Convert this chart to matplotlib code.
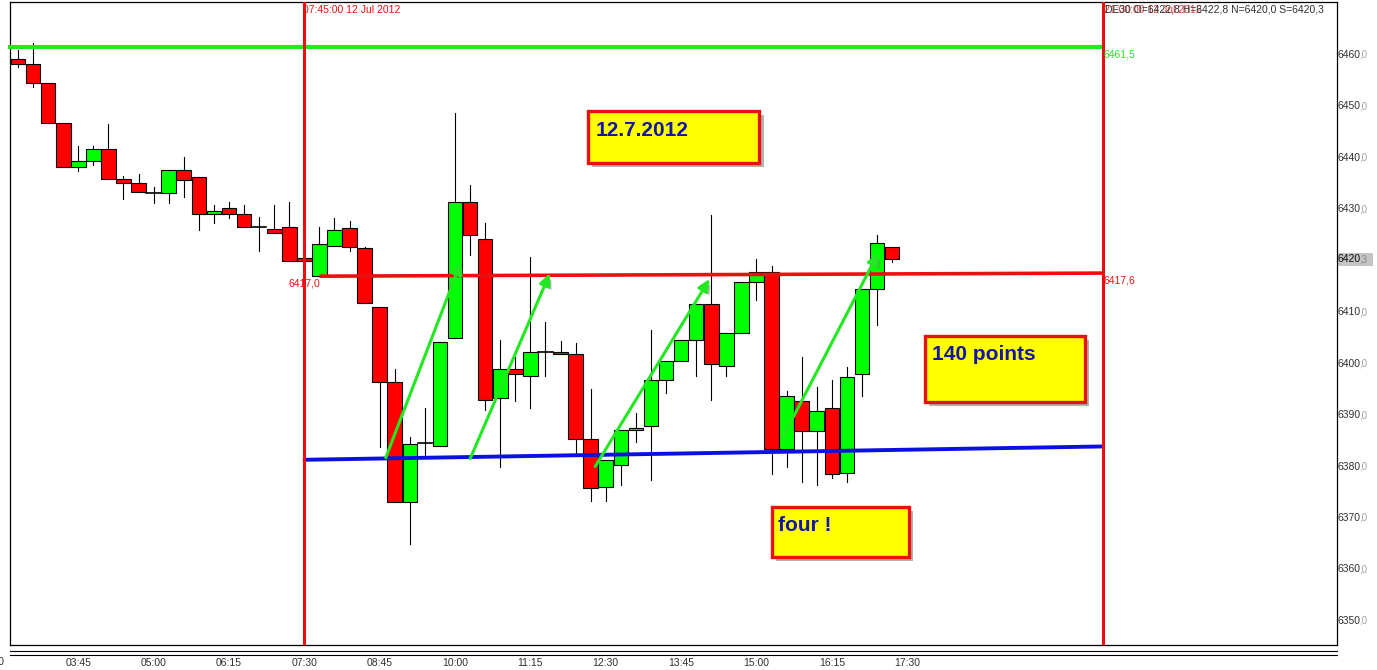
import numpy as np
import matplotlib
matplotlib.use('Agg')
import matplotlib.pyplot as plt
import matplotlib.patheffects as pe
import matplotlib.transforms as mtransforms
from matplotlib.lines import Line2D
from matplotlib.patches import Rectangle

plt.rcParams['font.family'] = ['Liberation Sans', 'DejaVu Sans']

# 15 minute DE30 bars, index 1 = 02:45 ... 59 = 17:15
bar_idx = np.arange(1, 60)
opens = [6459.3, 6458.2, 6454.5, 6446.7, 6438.2, 6439.3, 6441.7, 6435.8, 6435.1, 6433.2,
         6433.1, 6437.6, 6436.2, 6429.0, 6430.2, 6429.0, 6426.6, 6426.1, 6426.5, 6420.5,
         6417.0, 6422.9, 6426.3, 6422.4, 6411.0, 6396.4, 6373.1, 6384.6, 6384.0, 6404.9,
         6431.4, 6424.2, 6393.3, 6398.9, 6397.5, 6402.3, 6402.2, 6401.8, 6385.4, 6376.0,
         6380.3, 6387.1, 6387.8, 6396.8, 6400.5, 6404.6, 6411.6, 6399.6, 6405.9, 6415.8,
         6417.9, 6383.4, 6392.8, 6386.9, 6391.3, 6378.7, 6398.0, 6414.5, 6422.7]
highs = [6461.0, 6462.3, 6454.5, 6446.7, 6442.3, 6442.4, 6446.6, 6436.5, 6436.9, 6434.3,
         6437.6, 6440.2, 6436.2, 6430.8, 6431.5, 6430.8, 6428.5, 6430.8, 6431.4, 6420.5,
         6426.5, 6428.3, 6427.8, 6422.7, 6411.0, 6399.0, 6385.7, 6391.3, 6404.3, 6448.7,
         6434.7, 6427.3, 6404.5, 6401.2, 6420.8, 6408.0, 6404.4, 6404.0, 6395.0, 6381.3,
         6387.1, 6390.4, 6406.6, 6400.5, 6404.6, 6411.6, 6428.9, 6405.9, 6415.8, 6420.3,
         6418.9, 6394.6, 6401.2, 6395.5, 6396.8, 6399.3, 6414.5, 6425.0, 6422.7]
lows = [6457.7, 6453.8, 6446.7, 6438.2, 6437.5, 6438.7, 6435.8, 6432.0, 6433.3, 6431.2,
        6431.2, 6432.3, 6426.0, 6427.3, 6428.3, 6426.6, 6421.8, 6425.3, 6419.9, 6419.9,
        6417.0, 6422.9, 6421.8, 6411.7, 6383.7, 6373.1, 6364.9, 6382.3, 6384.0, 6404.9,
        6421.1, 6390.9, 6380.0, 6392.8, 6391.3, 6397.5, 6401.8, 6382.6, 6373.2, 6373.2,
        6376.4, 6384.8, 6377.3, 6394.2, 6400.5, 6397.5, 6392.9, 6397.5, 6405.9, 6412.4,
        6378.5, 6380.0, 6376.9, 6376.4, 6377.7, 6376.9, 6393.7, 6407.5, 6419.8]
closes = [6458.2, 6454.5, 6446.7, 6438.2, 6439.3, 6441.7, 6435.8, 6435.1, 6433.3, 6433.2,
          6437.6, 6435.6, 6429.0, 6429.6, 6429.0, 6426.6, 6426.6, 6425.3, 6419.9, 6419.9,
          6423.2, 6425.9, 6422.7, 6411.7, 6396.4, 6373.1, 6384.3, 6384.6, 6404.3, 6431.4,
          6425.0, 6392.9, 6398.9, 6398.0, 6402.3, 6402.3, 6401.8, 6385.4, 6375.8, 6381.3,
          6387.1, 6387.4, 6396.8, 6400.5, 6404.6, 6411.6, 6399.9, 6405.9, 6415.8, 6417.9,
          6383.4, 6393.8, 6386.9, 6390.7, 6378.5, 6397.4, 6414.5, 6423.4, 6420.3]

tick_pos = [5, 10, 15, 20, 25, 30, 35, 40, 45, 50, 55, 60]
tick_labels = ['03:45', '05:00', '06:15', '07:30', '08:45', '10:00',
               '11:15', '12:30', '13:45', '15:00', '16:15', '17:30']
first_tick = (0, '02:30')
price_ticks = [6350, 6360, 6370, 6380, 6390, 6400, 6410, 6430, 6440, 6450, 6460]
last_price = 6420.3

# drawn objects
vlines_x = [20, 73]
green_level = 6461.5
red_x = [21, 73]
red_y = [6417.0, 6417.6]
blue_x = [19.9, 73]
blue_y = [6381.3, 6383.9]
arrow_x0 = [25.4, 31.0, 39.3, 51.7]
arrow_y0 = [6381.7, 6381.5, 6380.0, 6385.4]
arrow_x1 = [30.4, 36.3, 46.9, 58.1]
arrow_y1 = [6419.8, 6417.6, 6416.5, 6421.6]
notes = ['12.7.2012', '140 points', 'four !']
note_boxes = [(38.8, 6438.95, 11.4, 10.15), (61.2, 6392.5, 10.6, 12.9), (51.0, 6362.5, 9.1, 9.6)]
note_text_xy = [(39.3, 6445.4), (61.65, 6401.7), (51.45, 6368.5)]

RED = '#ff0000'
GREEN = '#00ff00'
LINE_RED = '#ea1010'
LINE_GREEN = '#22e822'
BLUE = '#0a10e0'

fig = plt.figure(figsize=(13.77, 6.70), dpi=100)
ax = fig.add_axes([10 / 1377, 1 - 645 / 670, 1327 / 1377, 643 / 670])
for s in ax.spines.values():
    s.set_linewidth(0.9)
    s.set_color('black')

# candles
for x, o, h, l, c in zip(bar_idx, opens, highs, lows, closes):
    ax.plot([x, x], [l, h], color='black', lw=0.8, zorder=2)
    if abs(c - o) < 0.05:
        ax.plot([x - 0.48, x + 0.48], [o, o], color='black', lw=1.2, zorder=3)
        continue
    col = GREEN if c > o else RED
    ax.bar(x, abs(c - o), bottom=min(o, c), width=0.97, color=col,
           edgecolor='black', linewidth=0.8, zorder=3)

# level lines
ax.plot([0.35, vlines_x[1]], [green_level, green_level], color=LINE_GREEN, lw=3, zorder=4,
        solid_capstyle='butt', clip_on=False)
ax.plot(red_x, red_y, color=LINE_RED, lw=2.6, zorder=4, solid_capstyle='butt')
ax.plot(blue_x, blue_y, color=BLUE, lw=2.8, zorder=4, solid_capstyle='butt')
for vx in vlines_x:
    ax.axvline(vx, color=LINE_RED, lw=2.2, zorder=5)

# trend arrows
for x0, y0, x1, y1 in zip(arrow_x0, arrow_y0, arrow_x1, arrow_y1):
    ax.annotate('', xy=(x1, y1), xytext=(x0, y0),
                arrowprops=dict(arrowstyle='-|>,head_length=0.7,head_width=0.32',
                                color=LINE_GREEN, lw=2.2, shrinkA=0, shrinkB=0,
                                path_effects=[pe.SimplePatchShadow(offset=(2, -2), shadow_rgbFace='#777777', alpha=0.5),
                                              pe.Normal()]),
                zorder=6)

# note boxes
for (bx, by, bw, bh), (tx, ty), txt in zip(note_boxes, note_text_xy, notes):
    r = Rectangle((bx, by), bw, bh, facecolor='#ffff00', edgecolor='#e81010', lw=2.4, zorder=7,
                  path_effects=[pe.SimplePatchShadow(offset=(3, -3), shadow_rgbFace='#555555', alpha=0.45),
                                pe.Normal()])
    ax.add_patch(r)
    ax.text(tx, ty, txt, fontsize=15, fontweight='bold', color='#1414a8', ha='left',
            va='center', zorder=8)

# small labels on the lines
ax.annotate('6417,0', xy=(red_x[0], red_y[0]), xytext=(1, -7), textcoords='offset pixels',
            ha='right', va='center', fontsize=7.5, color=LINE_RED, zorder=8)
ax.annotate('6417,6', xy=(vlines_x[1], red_y[1]), xytext=(0, -7), textcoords='offset pixels',
            ha='left', va='center', fontsize=7.5, color=LINE_RED, zorder=8)
ax.annotate('6461,5', xy=(vlines_x[1], green_level), xytext=(0, -7), textcoords='offset pixels',
            ha='left', va='center', fontsize=7.5, color=LINE_GREEN, zorder=8)

top_trans = mtransforms.blended_transform_factory(ax.transData, ax.transAxes)
ax.annotate('07:45:00 12 Jul 2012', xy=(vlines_x[0], 1), xycoords=top_trans, xytext=(-1, -8),
            textcoords='offset pixels', ha='left', va='center', fontsize=7.5, color=LINE_RED)
ax.annotate('21:00:00 12 Jul 2012', xy=(vlines_x[1], 1), xycoords=top_trans, xytext=(1, -8),
            textcoords='offset pixels', ha='left', va='center', fontsize=7.5, color=LINE_RED, alpha=0.8)
ax.annotate('DE30 O=6422,8 H=6422,8 N=6420,0 S=6420,3', xy=(vlines_x[1], 1), xycoords=top_trans,
            xytext=(2, -8), textcoords='offset pixels', ha='left', va='center', fontsize=7.5,
            color='#303030')

# price scale on the right
ax.set_yticks([])
right_trans = mtransforms.blended_transform_factory(ax.transAxes, ax.transData)
for v in price_ticks:
    ax.annotate(str(v), xy=(1, v), xycoords=right_trans, xytext=(1, 0), textcoords='offset pixels',
                ha='left', va='center', fontsize=7.5, color='#303030', annotation_clip=False)
    ax.annotate(',0', xy=(1, v), xycoords=right_trans, xytext=(22, 0), textcoords='offset pixels',
                ha='left', va='center', fontsize=7, color='#a0a0a0', annotation_clip=False)
# current price marker on a grey patch
ax.add_patch(Rectangle((1.0005, last_price - 1.25), 0.0265, 2.5, transform=right_trans,
                       facecolor='#c4c4c4', edgecolor='none', clip_on=False, zorder=1))
ax.annotate(str(int(last_price)), xy=(1, last_price), xycoords=right_trans, xytext=(1, 0),
            textcoords='offset pixels', ha='left', va='center', fontsize=7.5, color='#101010',
            annotation_clip=False)
ax.annotate(',' + str(last_price).split('.')[1], xy=(1, last_price), xycoords=right_trans,
            xytext=(22, 0), textcoords='offset pixels', ha='left', va='center', fontsize=7,
            color='#8a8a8a', annotation_clip=False)

# time axis (limits after the ticks, set_xticks would widen them)
ax.set_xticks(tick_pos)
ax.set_xticklabels(tick_labels, fontsize=7.5, color='#303030')
ax.tick_params(axis='x', length=0, pad=9)
ax.set_xlim(0.47, 88.52)
ax.set_ylim(6345.3, 6470.3)
bottom_trans = mtransforms.blended_transform_factory(ax.transData, ax.transAxes)
ax.annotate(first_tick[1], xy=(first_tick[0], 0), xycoords=bottom_trans, xytext=(-11, -17),
            textcoords='offset pixels', ha='center', va='center', fontsize=7.5, color='#303030',
            annotation_clip=False)
for yy in (651, 655):
    fig.add_artist(Line2D([10 / 1377, 1337 / 1377], [1 - yy / 670, 1 - yy / 670],
                          color='black', lw=0.8))

fig.savefig('out.png', dpi=100)
